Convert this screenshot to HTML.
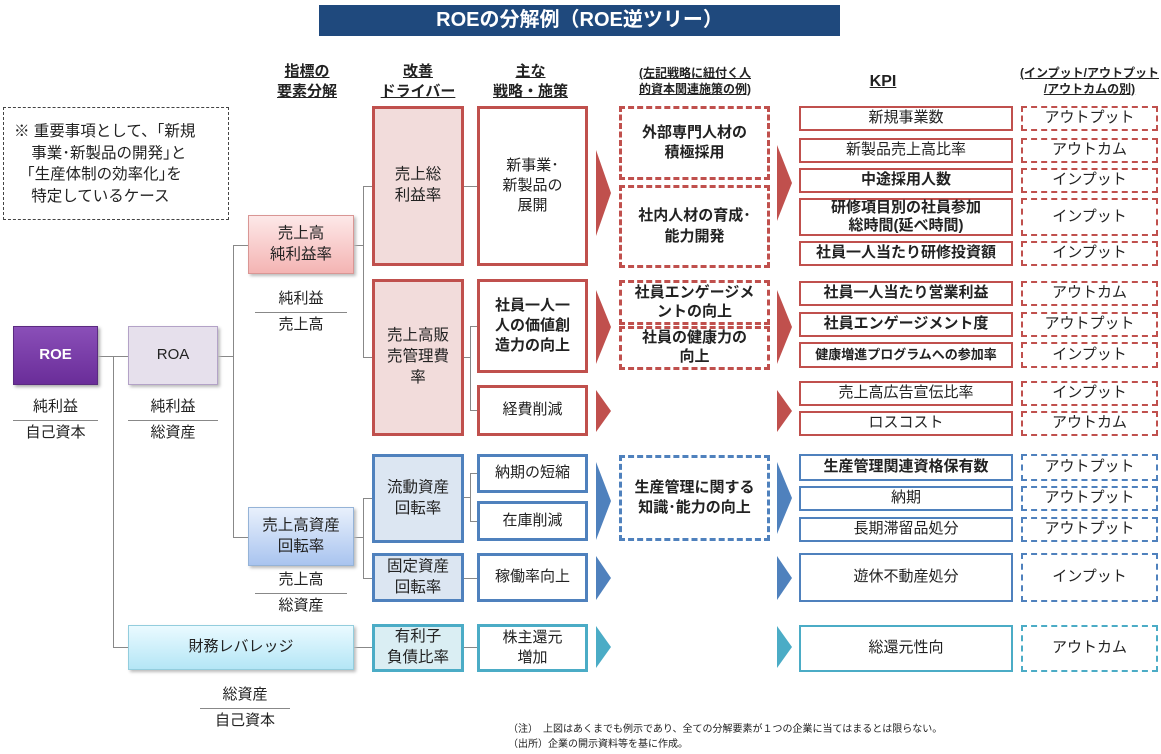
<!DOCTYPE html>
<html><head><meta charset="utf-8"><style>
body{margin:0;width:1161px;height:754px;background:#fff;position:relative;overflow:hidden;font-family:"Liberation Sans","Noto Sans CJK JP",sans-serif;color:#222}
.a{position:absolute;box-sizing:border-box;display:flex;align-items:center;justify-content:center;text-align:center;line-height:1.35}
.t{position:absolute;text-align:center;line-height:1.3}
.h{position:absolute;text-align:center;font-weight:bold;font-size:15px;line-height:1.3;text-decoration:underline}
.r{border:3px solid #c0504d}
.b{border:3px solid #4f81bd}
.c{border:3px solid #4bacc6}
.kr{border:2px solid #c0504d;font-size:15px}
.kb{border:2px solid #4f81bd;font-size:15px}
.kc{border:2px solid #4bacc6;font-size:15px}
.dr{border:2px dashed #c0504d;font-size:15px}
.db{border:2px dashed #4f81bd;font-size:15px}
.dc{border:2px dashed #4bacc6;font-size:15px}
.hr{border:3px dashed #c0504d;font-weight:bold;font-size:15px}
.hb{border:3px dashed #4f81bd;font-weight:bold;font-size:15px}
.bo{font-weight:bold}
.ln{position:absolute;background:#888}
.frac{position:absolute;text-align:center;font-size:15px;line-height:1.25}
.frac span{display:block}
.frac .n{border-bottom:1px solid #888;padding-bottom:3px;margin-bottom:3px}
</style></head><body>
<div class="a" style="left:319px;top:5px;width:521px;height:31px;background:#1f497d;color:#fff;font-weight:bold;font-size:20px">ROEの分解例（ROE逆ツリー）</div>

<div class="h" style="left:257px;top:62px;width:100px">指標の<br>要素分解</div>
<div class="h" style="left:368px;top:62px;width:100px">改善<br>ドライバー</div>
<div class="h" style="left:478px;top:62px;width:105px">主な<br>戦略・施策</div>
<div class="h" style="left:615px;top:66px;width:160px;font-size:12px">(左記戦略に紐付く人<br>的資本関連施策の例)</div>
<div class="h" style="left:850px;top:72px;width:66px;font-size:16px">KPI</div>
<div class="h" style="left:1016px;top:66px;width:147px;font-size:12px">(インプット/アウトプット<br>/アウトカムの別)</div>

<div class="t" style="left:3px;top:107px;width:226px;height:113px;border:1px dashed #444;box-sizing:border-box;text-align:left;font-size:15.5px;padding:13px 0 0 10px;line-height:1.4">※ 重要事項として、｢新規<br>&nbsp;&nbsp;&nbsp;&nbsp;事業･新製品の開発｣と<br>&nbsp;&nbsp;&nbsp;｢生産体制の効率化｣を<br>&nbsp;&nbsp;&nbsp;&nbsp;特定しているケース</div>

<!-- connectors -->
<div class="ln" style="left:98px;top:356px;width:30px;height:1px"></div>
<div class="ln" style="left:113px;top:356px;width:1px;height:292px"></div>
<div class="ln" style="left:113px;top:647px;width:15px;height:1px"></div>
<div class="ln" style="left:218px;top:356px;width:15px;height:1px"></div>
<div class="ln" style="left:233px;top:245px;width:1px;height:293px"></div>
<div class="ln" style="left:233px;top:245px;width:15px;height:1px"></div>
<div class="ln" style="left:233px;top:537px;width:15px;height:1px"></div>
<div class="ln" style="left:354px;top:245px;width:9px;height:1px"></div>
<div class="ln" style="left:363px;top:186px;width:1px;height:171px"></div>
<div class="ln" style="left:363px;top:186px;width:9px;height:1px"></div>
<div class="ln" style="left:363px;top:357px;width:9px;height:1px"></div>
<div class="ln" style="left:354px;top:537px;width:9px;height:1px"></div>
<div class="ln" style="left:363px;top:498px;width:1px;height:80px"></div>
<div class="ln" style="left:363px;top:498px;width:9px;height:1px"></div>
<div class="ln" style="left:363px;top:578px;width:9px;height:1px"></div>
<div class="ln" style="left:354px;top:647px;width:18px;height:1px"></div>
<div class="ln" style="left:464px;top:186px;width:13px;height:1px"></div>
<div class="ln" style="left:464px;top:357px;width:6px;height:1px"></div>
<div class="ln" style="left:470px;top:326px;width:1px;height:85px"></div>
<div class="ln" style="left:470px;top:326px;width:7px;height:1px"></div>
<div class="ln" style="left:470px;top:410px;width:7px;height:1px"></div>
<div class="ln" style="left:464px;top:497px;width:6px;height:1px"></div>
<div class="ln" style="left:470px;top:473px;width:1px;height:49px"></div>
<div class="ln" style="left:470px;top:473px;width:7px;height:1px"></div>
<div class="ln" style="left:470px;top:521px;width:7px;height:1px"></div>
<div class="ln" style="left:464px;top:578px;width:13px;height:1px"></div>
<div class="ln" style="left:464px;top:647px;width:13px;height:1px"></div>

<!-- left tree -->
<div class="a bo" style="left:13px;top:326px;width:85px;height:59px;background:linear-gradient(#8a4fb8,#6a2d99);border:1px solid #5a2a80;color:#fff;font-size:15px;box-shadow:2px 2px 3px #aaa">ROE</div>
<div class="frac" style="left:13px;top:398px;width:85px"><span class="n">純利益</span><span>自己資本</span></div>
<div class="a" style="left:128px;top:326px;width:90px;height:59px;background:#e6e0ec;border:1px solid #b3a2c7;font-size:15px;box-shadow:2px 2px 3px #bbb">ROA</div>
<div class="frac" style="left:128px;top:398px;width:90px"><span class="n">純利益</span><span>総資産</span></div>
<div class="a" style="left:248px;top:215px;width:106px;height:59px;background:linear-gradient(#fde8e8,#f4b4b3);border:1px solid #d99694;font-size:15.5px;box-shadow:2px 2px 3px #bbb">売上高<br>純利益率</div>
<div class="frac" style="left:255px;top:290px;width:92px"><span class="n">純利益</span><span>売上高</span></div>
<div class="a" style="left:248px;top:507px;width:106px;height:59px;background:linear-gradient(#e8f0fc,#a9c4ef);border:1px solid #95b3d7;font-size:15.5px;box-shadow:2px 2px 3px #bbb">売上高資産<br>回転率</div>
<div class="frac" style="left:255px;top:571px;width:92px"><span class="n">売上高</span><span>総資産</span></div>
<div class="a" style="left:128px;top:625px;width:226px;height:45px;background:linear-gradient(#eafaff,#b4e6f6);border:1px solid #93cddd;font-size:15px;box-shadow:2px 2px 3px #bbb">財務レバレッジ</div>
<div class="frac" style="left:200px;top:686px;width:90px"><span class="n">総資産</span><span>自己資本</span></div>

<!-- drivers -->
<div class="a r" style="left:372px;top:106px;width:92px;height:160px;background:#f2dcdb;font-size:15.5px">売上総<br>利益率</div>
<div class="a r" style="left:372px;top:279px;width:92px;height:157px;background:#f2dcdb;font-size:15.5px">売上高販<br>売管理費<br>率</div>
<div class="a b" style="left:372px;top:454px;width:92px;height:89px;background:#dce6f2;font-size:15.5px">流動資産<br>回転率</div>
<div class="a b" style="left:372px;top:553px;width:92px;height:49px;background:#dce6f2;font-size:15.5px">固定資産<br>回転率</div>
<div class="a c" style="left:372px;top:624px;width:92px;height:48px;background:#daeef3;font-size:15.5px">有利子<br>負債比率</div>

<!-- strategies -->
<div class="a r" style="left:477px;top:106px;width:111px;height:160px;font-size:15px">新事業･<br>新製品の<br>展開</div>
<div class="a r bo" style="left:477px;top:279px;width:111px;height:94px;font-size:15px">社員一人一<br>人の価値創<br>造力の向上</div>
<div class="a r" style="left:477px;top:385px;width:111px;height:51px;font-size:15px">経費削減</div>
<div class="a b" style="left:477px;top:454px;width:111px;height:39px;font-size:15px">納期の短縮</div>
<div class="a b" style="left:477px;top:501px;width:111px;height:40px;font-size:15px">在庫削減</div>
<div class="a b" style="left:477px;top:553px;width:111px;height:49px;font-size:15px">稼働率向上</div>
<div class="a c" style="left:477px;top:624px;width:111px;height:48px;font-size:15px">株主還元<br>増加</div>

<!-- arrows -->
<svg style="position:absolute;left:0;top:0" width="1161" height="754">
<g fill="#c0504d">
<polygon points="596,150 611,193 596,236"/><polygon points="596,290 611,327 596,364"/><polygon points="596,390 611,411 596,432"/>
<polygon points="777,145 792,183 777,221"/><polygon points="777,290 792,327 777,364"/><polygon points="777,390 792,411 777,432"/>
</g>
<g fill="#4f81bd">
<polygon points="596,462 611,501 596,540"/><polygon points="596,556 611,578 596,600"/>
<polygon points="777,462 792,498 777,534"/><polygon points="777,556 792,578 777,600"/>
</g>
<g fill="#4bacc6">
<polygon points="596,626 611,647 596,668"/><polygon points="777,626 792,647 777,668"/>
</g>
</svg>

<!-- human capital -->
<div class="a hr" style="left:619px;top:106px;width:151px;height:74px">外部専門人材の<br>積極採用</div>
<div class="a hr" style="left:619px;top:185px;width:151px;height:83px">社内人材の育成･<br>能力開発</div>
<div class="a hr" style="left:619px;top:280px;width:151px;height:45px;line-height:1.25">社員エンゲージメ<br>ントの向上</div>
<div class="a hr" style="left:619px;top:326px;width:151px;height:44px;line-height:1.25">社員の健康力の<br>向上</div>
<div class="a hb" style="left:619px;top:455px;width:151px;height:86px">生産管理に関する<br>知識･能力の向上</div>

<!-- KPI -->
<div class="a kr" style="left:799px;top:106px;width:214px;height:25px">新規事業数</div>
<div class="a kr" style="left:799px;top:138px;width:214px;height:25px">新製品売上高比率</div>
<div class="a kr bo" style="left:799px;top:168px;width:214px;height:25px">中途採用人数</div>
<div class="a kr bo" style="left:799px;top:198px;width:214px;height:38px;line-height:1.2">研修項目別の社員参加<br>総時間(延べ時間)</div>
<div class="a kr bo" style="left:799px;top:241px;width:214px;height:25px">社員一人当たり研修投資額</div>
<div class="a kr bo" style="left:799px;top:281px;width:214px;height:25px">社員一人当たり営業利益</div>
<div class="a kr bo" style="left:799px;top:312px;width:214px;height:25px">社員エンゲージメント度</div>
<div class="a kr bo" style="left:799px;top:342px;width:214px;height:26px;font-size:13px">健康増進プログラムへの参加率</div>
<div class="a kr" style="left:799px;top:381px;width:214px;height:25px">売上高広告宣伝比率</div>
<div class="a kr" style="left:799px;top:411px;width:214px;height:25px">ロスコスト</div>
<div class="a kb bo" style="left:799px;top:454px;width:214px;height:27px">生産管理関連資格保有数</div>
<div class="a kb" style="left:799px;top:486px;width:214px;height:25px">納期</div>
<div class="a kb" style="left:799px;top:517px;width:214px;height:25px">長期滞留品処分</div>
<div class="a kb" style="left:799px;top:553px;width:214px;height:49px">遊休不動産処分</div>
<div class="a kc" style="left:799px;top:625px;width:214px;height:47px">総還元性向</div>

<!-- type -->
<div class="a dr" style="left:1021px;top:106px;width:137px;height:25px">アウトプット</div>
<div class="a dr" style="left:1021px;top:138px;width:137px;height:25px">アウトカム</div>
<div class="a dr" style="left:1021px;top:168px;width:137px;height:25px">インプット</div>
<div class="a dr" style="left:1021px;top:198px;width:137px;height:38px">インプット</div>
<div class="a dr" style="left:1021px;top:241px;width:137px;height:25px">インプット</div>
<div class="a dr" style="left:1021px;top:281px;width:137px;height:25px">アウトカム</div>
<div class="a dr" style="left:1021px;top:312px;width:137px;height:25px">アウトプット</div>
<div class="a dr" style="left:1021px;top:342px;width:137px;height:26px">インプット</div>
<div class="a dr" style="left:1021px;top:381px;width:137px;height:25px">インプット</div>
<div class="a dr" style="left:1021px;top:411px;width:137px;height:25px">アウトカム</div>
<div class="a db" style="left:1021px;top:454px;width:137px;height:27px">アウトプット</div>
<div class="a db" style="left:1021px;top:486px;width:137px;height:25px">アウトプット</div>
<div class="a db" style="left:1021px;top:517px;width:137px;height:25px">アウトプット</div>
<div class="a db" style="left:1021px;top:553px;width:137px;height:49px">インプット</div>
<div class="a dc" style="left:1021px;top:625px;width:137px;height:47px">アウトカム</div>

<div class="t" style="left:508px;top:722px;text-align:left;font-size:10px;line-height:1.5;white-space:nowrap">（注）　上図はあくまでも例示であり、全ての分解要素が１つの企業に当てはまるとは限らない。<br>（出所）企業の開示資料等を基に作成。</div>
</body></html>
